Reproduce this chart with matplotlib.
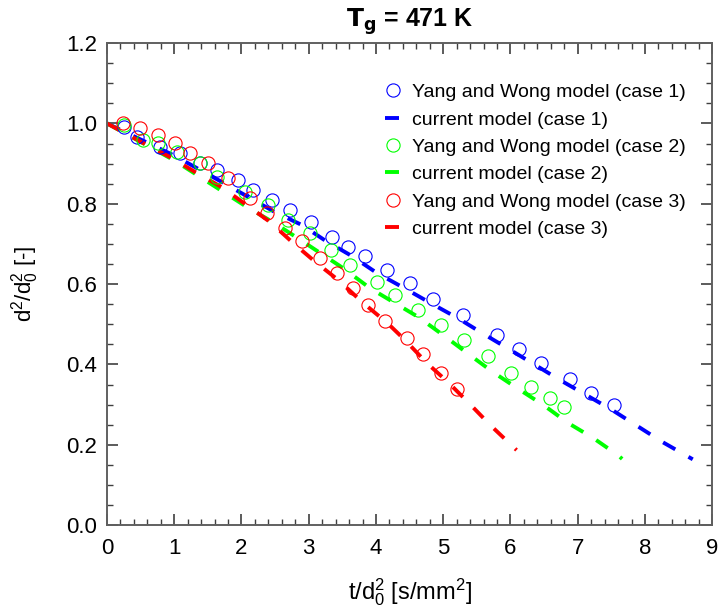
import matplotlib.pyplot as plt
import numpy as np
from matplotlib.ticker import MultipleLocator

plt.rcParams['font.family'] = ['Liberation Sans', 'DejaVu Sans']
plt.rcParams['mathtext.default'] = 'regular'

# Yang and Wong model (circles)
yw1_t = [0.25, 0.45, 0.79, 1.09, 1.38, 1.64, 1.95, 2.17, 2.46, 2.72, 3.04, 3.35,
         3.59, 3.84, 4.17, 4.51, 4.85, 5.30, 5.80, 6.12, 6.46, 6.88, 7.19, 7.54]
yw1_d = [0.990, 0.966, 0.941, 0.926, 0.901, 0.884, 0.859, 0.834, 0.809, 0.784, 0.754, 0.717,
         0.692, 0.670, 0.635, 0.602, 0.563, 0.523, 0.473, 0.438, 0.403, 0.363, 0.329, 0.299]

yw2_t = [0.25, 0.54, 0.76, 1.04, 1.38, 1.64, 2.05, 2.40, 2.69, 3.02, 3.33, 3.62,
         4.02, 4.29, 4.63, 4.97, 5.31, 5.66, 6.01, 6.31, 6.59, 6.80]
yw2_d = [0.995, 0.958, 0.951, 0.929, 0.901, 0.866, 0.829, 0.797, 0.759, 0.727, 0.685, 0.647,
         0.605, 0.572, 0.535, 0.498, 0.461, 0.421, 0.378, 0.344, 0.316, 0.294]

yw3_t = [0.24, 0.49, 0.76, 1.01, 1.24, 1.50, 1.80, 2.13, 2.38, 2.65, 2.90, 3.17,
         3.42, 3.66, 3.88, 4.14, 4.46, 4.70, 4.97, 5.21]
yw3_d = [1.001, 0.989, 0.971, 0.951, 0.926, 0.902, 0.864, 0.814, 0.777, 0.739, 0.707, 0.665,
         0.627, 0.590, 0.548, 0.508, 0.466, 0.426, 0.379, 0.339]

# current model (dashed)
cm1_t = [0.0, 1.0, 1.71, 2.5, 2.9, 3.24, 3.62, 4.02, 4.40, 4.81, 5.22, 5.58, 6.0,
         6.74, 7.49, 8.26, 8.71]
cm1_d = [1.0, 0.92, 0.854, 0.779, 0.747, 0.709, 0.672, 0.627, 0.592, 0.553, 0.515, 0.478,
         0.436, 0.361, 0.289, 0.207, 0.164]

cm2_t = [0.0, 1.0, 2.08, 2.47, 2.84, 3.51, 3.91, 4.29, 4.63, 5.0, 5.40, 5.74, 6.10,
         6.49, 6.86, 7.23, 7.60, 7.66]
cm2_d = [1.0, 0.908, 0.792, 0.754, 0.714, 0.640, 0.590, 0.552, 0.518, 0.473, 0.423, 0.381,
         0.341, 0.299, 0.254, 0.217, 0.174, 0.165]

cm3_t = [0.0, 0.54, 0.94, 1.31, 1.71, 2.43, 2.77, 3.10, 3.44, 3.81, 4.17, 4.43, 4.76,
         5.07, 5.37, 5.70, 6.09]
cm3_d = [1.0, 0.951, 0.916, 0.879, 0.841, 0.754, 0.702, 0.655, 0.610, 0.553, 0.503, 0.461,
         0.403, 0.356, 0.306, 0.249, 0.187]

colors = ['#0000ff', '#00ff00', '#ff0000']

fig = plt.figure(figsize=(7.18, 6.15), dpi=100)
ax = fig.add_axes([0.149, 0.146, 0.843, 0.784])

series = [(yw1_t, yw1_d, cm1_t, cm1_d), (yw2_t, yw2_d, cm2_t, cm2_d),
          (yw3_t, yw3_d, cm3_t, cm3_d)]
for i, (t, d, ct, cd) in enumerate(series):
    c = colors[i]
    ax.plot(t, d, 'o', ms=9.5, mfc='none', mec=c, mew=0.8,
            label=f'Yang and Wong model (case {i + 1})', zorder=3)
    ax.plot(ct, cd, color=c, lw=2.8, dashes=(3.6, 3.9),
            label=f'current model (case {i + 1})', zorder=2)

ax.set_xlim(0, 9)
ax.set_ylim(0, 1.2)
ax.xaxis.set_major_locator(MultipleLocator(1))
ax.xaxis.set_minor_locator(MultipleLocator(0.2))
ax.yaxis.set_major_locator(MultipleLocator(0.2))
ax.yaxis.set_minor_locator(MultipleLocator(0.05))
ax.set_yticklabels([f'{v:.1f}' for v in ax.get_yticks()])
ax.tick_params(which='both', direction='in', top=True, right=True,
               labelsize=16, color='#404040')
ax.tick_params(which='major', length=8, width=1.2)
ax.tick_params(axis='x', which='major', pad=9)
ax.tick_params(axis='y', which='major', pad=7)
ax.tick_params(which='minor', length=4, width=1.0)
for s in ax.spines.values():
    s.set_color('#606060')
    s.set_linewidth(1.4)

ax.set_xlabel(r't/d$_0^2$ [s/mm$^2$]', fontsize=17, labelpad=13)
ax.set_ylabel(r'd$^2$/d$_0^2$ [-]', fontsize=16, labelpad=18)
ax.set_title(r'$\mathbf{T_g}$ = 471 K', fontsize=18, fontweight='bold', pad=12)

leg = ax.legend(loc='upper right', bbox_to_anchor=(0.975, 0.94), frameon=False,
                fontsize=14, handlelength=0.8, handletextpad=0.55,
                labelspacing=0.5, borderaxespad=0.2)

fig.savefig('out.png', dpi=100)
